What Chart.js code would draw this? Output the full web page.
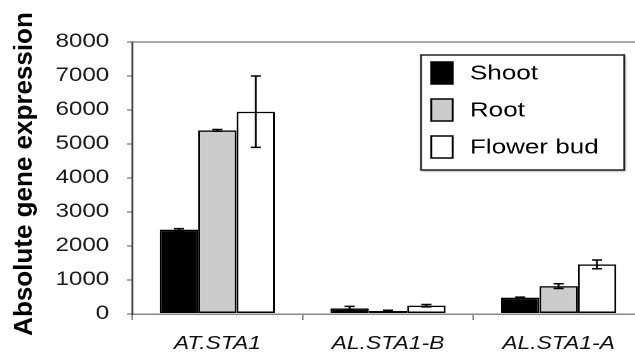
<!DOCTYPE html>
<html>
<head>
<meta charset="utf-8">
<script src="https://cdn.jsdelivr.net/npm/chart.js@4"></script>
<style>
  html, body { margin: 0; padding: 0; background: #fff; overflow: hidden; }
  /* the reference is stretched sideways, so the chart is drawn narrow and widened */
  #wrap { position: relative; width: 508px; height: 356px; transform: scaleX(1.27); transform-origin: 0 0; }
</style>
</head>
<body>
<div id="wrap"><canvas id="mycanvas"></canvas></div>
<script>
// data
var categories = ["AT.STA1", "AL.STA1-B", "AL.STA1-A"];
var seriesNames = ["Shoot", "Root", "Flower bud"];
var shoot = [2480, 165, 480];
var shootErr = [30, 60, 15];
var root = [5400, 90, 820];
var rootErr = [25, 20, 70];
var flowerBud = [5950, 245, 1460];
var flowerBudErr = [1050, 35, 130];
var yMin = 0, yMax = 8000, yStep = 1000;
var yTitle = "Absolute gene expression";

var FONT = "'Liberation Sans', Arial, Helvetica, sans-serif";
var STRETCH = 1.27;
var errors = [shootErr, rootErr, flowerBudErr];

var errorBars = {
	id: "errorBars",
	afterDatasetsDraw: function(chart) {
		var ctx = chart.ctx;
		var y = chart.scales.y;
		ctx.save();
		ctx.strokeStyle = "#000";
		ctx.lineWidth = 1.5;
		chart.data.datasets.forEach(function(ds, i) {
			var meta = chart.getDatasetMeta(i);
			meta.data.forEach(function(bar, j) {
				var v = ds.data[j], e = errors[i][j];
				var top = y.getPixelForValue(v + e);
				var bot = y.getPixelForValue(v - e);
				var cap = 4;
				ctx.beginPath();
				ctx.moveTo(bar.x, top); ctx.lineTo(bar.x, bot);
				ctx.moveTo(bar.x - cap, top); ctx.lineTo(bar.x + cap, top);
				ctx.moveTo(bar.x - cap, bot); ctx.lineTo(bar.x + cap, bot);
				ctx.stroke();
			});
		});
		ctx.restore();
	}
};

// y title drawn here so it is not widened with the rest
var axisTitle = {
	id: "axisTitle",
	afterDraw: function(chart) {
		var ctx = chart.ctx;
		var area = chart.chartArea;
		ctx.save();
		ctx.translate(19.5, (area.top + area.bottom) / 2 - 4);
		ctx.scale(1 / STRETCH, 1);
		ctx.rotate(-Math.PI / 2);
		ctx.font = "bold 26px " + FONT;
		ctx.fillStyle = "#000";
		ctx.textAlign = "center";
		ctx.textBaseline = "middle";
		ctx.fillText(yTitle, 0, 0);
		ctx.restore();
	}
};

var boxLegend = {
	id: "boxLegend",
	afterDraw: function(chart) {
		var ctx = chart.ctx;
		var x0 = 331.5, y0 = 55, w = 160, h = 115;
		ctx.save();
		ctx.shadowColor = "rgba(0,0,0,0.35)";
		ctx.shadowBlur = 4;
		ctx.shadowOffsetX = 2;
		ctx.shadowOffsetY = 3;
		ctx.fillStyle = "#fff";
		ctx.fillRect(x0, y0, w, h);
		ctx.restore();
		ctx.save();
		ctx.strokeStyle = "#222";
		ctx.lineWidth = 1.5;
		ctx.strokeRect(x0, y0, w, h);
		ctx.font = "20.5px " + FONT;
		ctx.textBaseline = "middle";
		chart.data.datasets.forEach(function(ds, i) {
			var cy = 73 + i * 37;
			ctx.fillStyle = ds.backgroundColor;
			ctx.fillRect(339.5, cy - 11, 17, 22);
			ctx.strokeStyle = "#000";
			ctx.lineWidth = 1.5;
			ctx.strokeRect(339.5, cy - 11, 17, 22);
			ctx.fillStyle = "#000";
			ctx.fillText(ds.label, 370, cy + 1);
		});
		ctx.restore();
	}
};

var chartdata = {
	labels: categories,
	datasets: [
		{ label: seriesNames[0], data: shoot, backgroundColor: "#000000" },
		{ label: seriesNames[1], data: root, backgroundColor: "#cccccc" },
		{ label: seriesNames[2], data: flowerBud, backgroundColor: "#ffffff" }
	]
};
chartdata.datasets.forEach(function(ds) {
	ds.borderColor = "#000";
	ds.borderWidth = 1.5;
	ds.borderSkipped = false;
	ds.categoryPercentage = 0.675;
	ds.barPercentage = 1.0;
});

var ctx = document.getElementById("mycanvas");
var BarGraph = new Chart(ctx, {
	type: "bar",
	data: chartdata,
	plugins: [errorBars, axisTitle, boxLegend],
	options: {
		responsive: true,
		maintainAspectRatio: false,
		devicePixelRatio: 2,
		animation: false,
		layout: { padding: { top: 42, right: 1, bottom: 0, left: 0 } },
		plugins: { legend: { display: false }, tooltip: { enabled: false } },
		scales: {
			x: {
				offset: true,
				grid: { drawOnChartArea: false, tickColor: "#777", tickLength: 6, tickWidth: 1 },
				border: { color: "#888", width: 1.5 },
				ticks: { color: "#111", padding: 13, font: { family: FONT, size: 18, style: "italic" } },
				afterFit: function(s) { s.height = 42; }
			},
			y: {
				min: yMin, max: yMax,
				grid: {
					color: function(c) { return c.tick && c.tick.value === yMax ? "#aaaaaa" : "rgba(0,0,0,0)"; },
					lineWidth: 2,
					tickColor: "#555", tickLength: 4, tickWidth: 1
				},
				border: { color: "#444", width: 1.5 },
				ticks: {
					stepSize: yStep, color: "#1a1a1a", padding: 14,
					font: { family: FONT, size: 19 },
					callback: function(v) { return String(v); }
				},
				afterFit: function(s) { s.width = 104; }
			}
		}
	}
});
</script>
</body>
</html>
